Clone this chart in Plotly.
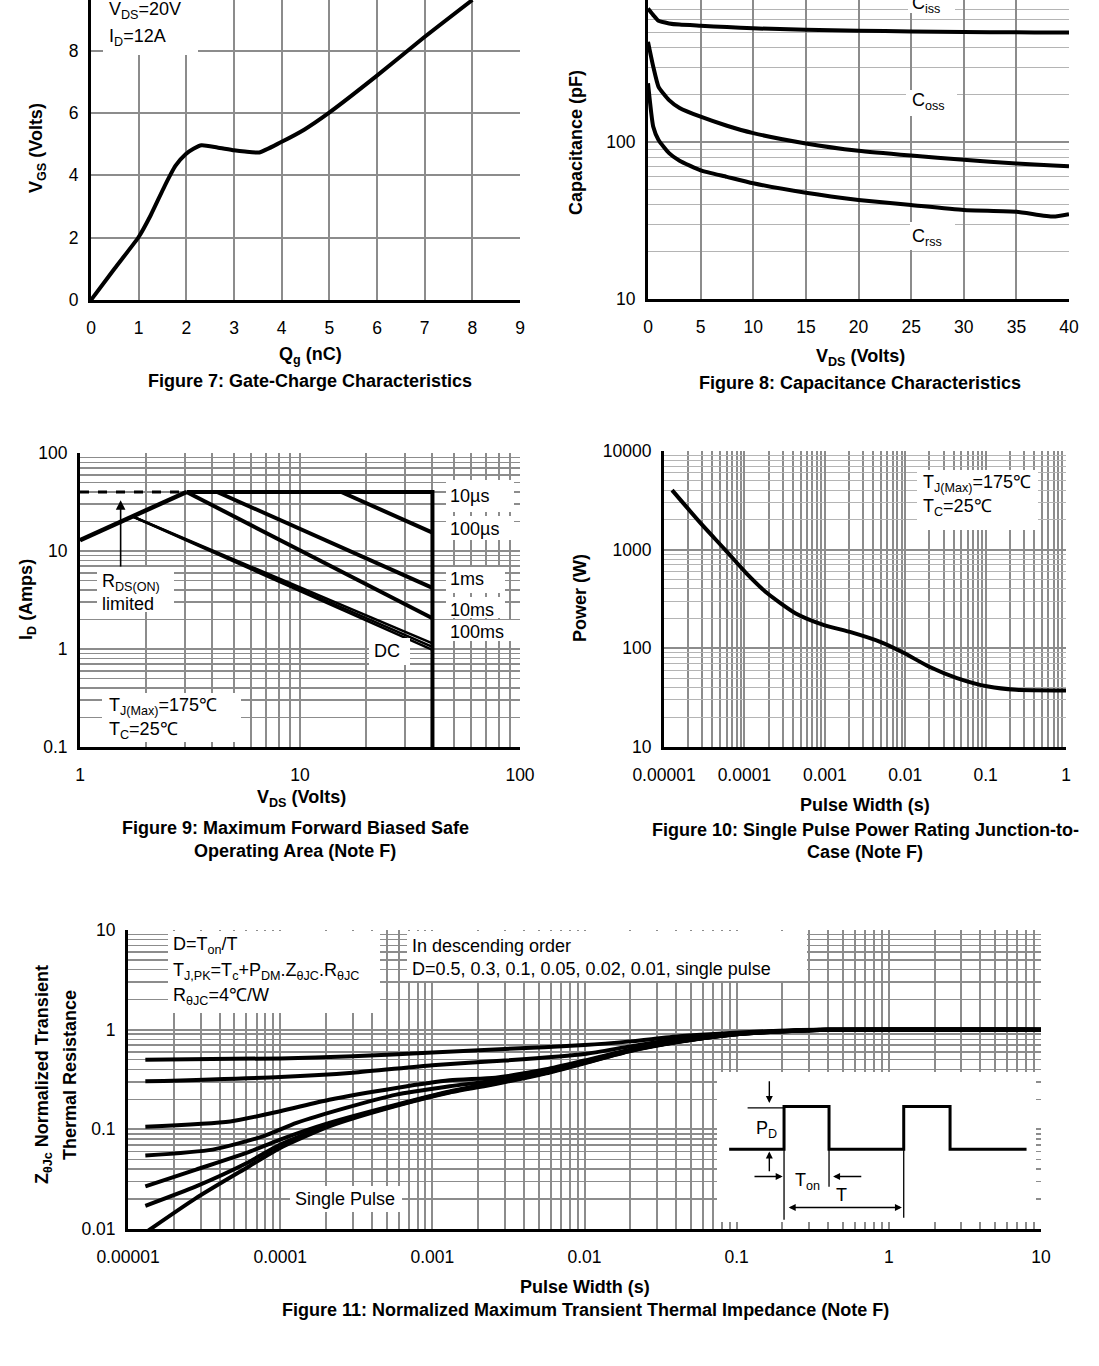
import math
import plotly.graph_objects as go

W, H = 1099, 1366
FONT = "Liberation Sans, Arial, Helvetica, sans-serif"
GRID = "#8c8c8c"
GRID_LIGHT = "#b4b4b4"
TXT = 18
TICK = 17.5


def px(x):
    return x / W


def py(y):
    return 1 - y / H


# ---------------- Figure 7: gate charge ----------------
qg_nc = [0, 0.5, 1.0, 1.25, 1.55, 1.77, 1.99, 2.15, 2.32, 2.65, 3.0, 3.23, 3.53, 3.97, 4.48, 4.99, 5.98, 6.97, 8.0]
vgs_volts = [0, 1.02, 2.02, 2.71, 3.67, 4.30, 4.68, 4.85, 4.96, 4.89, 4.80, 4.76, 4.73, 5.05, 5.47, 6.0, 7.17, 8.4, 9.62]
qg_ticks = [0, 1, 2, 3, 4, 5, 6, 7, 8, 9]
vgs_ticks = [0, 2, 4, 6, 8]

# ---------------- Figure 8: capacitance ----------------
vds_cap = [0, 0.5, 1, 2, 3, 5, 7.5, 10, 15, 20, 25, 30, 35, 38.5, 40]
ciss_pf = [710, 644, 592, 570, 560, 551, 540, 530, 520, 512, 507, 502, 500, 498, 498]
coss_pf = [435, 302, 225, 185, 165, 145, 127, 114, 98, 88, 82, 77, 73, 71, 70]
crss_pf = [237, 125, 103, 85, 76, 66, 60, 54.6, 47.5, 42.8, 39.7, 36.9, 36.0, 33.5, 34.7]
vds_cap_ticks = [0, 5, 10, 15, 20, 25, 30, 35, 40]
cap_ticks = [10, 100]

# ---------------- Figure 9: SOA ----------------
rds_vds = [1.0, 3.05]
rds_id = [12.9, 40.0]
dash_vds = [1.0, 3.05]
dash_id = [40.0, 40.0]
limit_vds = [3.05, 40.0, 40.0]
limit_id = [40.0, 40.0, 0.1]
soa10us_vds = [15.4, 40.0]
soa10us_id = [40.0, 15.4]
soa100us_vds = [4.2, 40.0]
soa100us_id = [40.0, 4.2]
soa1ms_vds = [3.05, 40.0]
soa1ms_id = [40.0, 2.06]
soa10ms_vds = [1.74, 40.0]
soa10ms_id = [22.4, 1.14]
soa100ms_vds = [1.74, 40.0]
soa100ms_id = [22.4, 1.05]
soadc_vds = [1.74, 40.0]
soadc_id = [22.4, 0.98]
soa_x_ticks = [1, 10, 100]
soa_y_ticks = [0.1, 1, 10, 100]

# ---------------- Figure 10: single pulse power ----------------
pulse_s = [1.26e-5, 2.87e-5, 5.8e-5, 1.06e-4, 1.93e-4, 4.3e-4, 9.6e-4, 2.15e-3, 4.8e-3, 9.7e-3, 1.96e-2, 4.4e-2, 0.108, 0.24, 1.0]
power_w = [4010, 1845, 991, 576, 361, 227, 173, 145, 117, 89.6, 65.5, 50, 41, 38, 37.4]
pw_x_ticks = [1e-5, 1e-4, 1e-3, 1e-2, 1e-1, 1]
pw_x_text = ["0.00001", "0.0001", "0.001", "0.01", "0.1", "1"]
pw_y_ticks = [10, 100, 1000, 10000]

# ---------------- Figure 11: transient thermal impedance ----------------
z05_t = [1.3e-5, 1e-4, 3e-4, 1e-3, 3e-3, 0.01, 0.02, 0.042, 0.09, 0.19, 0.35, 10]
z05 = [0.50, 0.515, 0.54, 0.59, 0.64, 0.70, 0.763, 0.857, 0.926, 0.977, 1.0, 1.0]
z03_t = [1.3e-5, 1e-4, 3e-4, 1e-3, 3e-3, 0.01, 0.02, 0.042, 0.09, 0.19, 0.35, 10]
z03 = [0.303, 0.335, 0.37, 0.44, 0.49, 0.57, 0.68, 0.806, 0.905, 0.962, 1.0, 1.0]
z01_t = [1.3e-5, 4.7e-5, 1e-4, 2.1e-4, 5.8e-4, 1.3e-3, 2.6e-3, 5.6e-3, 0.01, 0.02, 0.042, 0.09, 0.19, 0.4, 10]
z01 = [0.106, 0.12, 0.152, 0.198, 0.26, 0.31, 0.33, 0.40, 0.49, 0.63, 0.77, 0.895, 0.965, 1.0, 1.0]
z005_t = [1.3e-5, 3.6e-5, 7.7e-5, 1.28e-4, 2.7e-4, 5.8e-4, 1.3e-3, 2.6e-3, 5.6e-3, 0.01, 0.02, 0.042, 0.09, 0.19, 0.4, 10]
z005 = [0.0545, 0.0626, 0.085, 0.116, 0.164, 0.223, 0.27, 0.31, 0.385, 0.48, 0.625, 0.765, 0.89, 0.962, 1.0, 1.0]
z002_t = [1.3e-5, 2.8e-5, 6e-5, 1e-4, 2.1e-4, 5.8e-4, 1.3e-3, 2.6e-3, 5.6e-3, 0.01, 0.02, 0.042, 0.09, 0.19, 0.4, 10]
z002 = [0.0268, 0.0394, 0.058, 0.079, 0.116, 0.177, 0.24, 0.295, 0.375, 0.47, 0.62, 0.76, 0.89, 0.96, 1.0, 1.0]
z001_t = [1.3e-5, 2.8e-5, 6e-5, 1e-4, 2.1e-4, 5.8e-4, 1.3e-3, 2.6e-3, 5.6e-3, 0.01, 0.02, 0.042, 0.09, 0.19, 0.4, 10]
z001 = [0.0171, 0.0268, 0.0457, 0.0704, 0.111, 0.174, 0.237, 0.29, 0.37, 0.465, 0.615, 0.76, 0.885, 0.96, 1.0, 1.0]
zsp_t = [1.3e-5, 2.8e-5, 6e-5, 1e-4, 2.1e-4, 5.8e-4, 1.3e-3, 2.6e-3, 5.6e-3, 0.01, 0.02, 0.042, 0.09, 0.19, 0.4, 10]
zsp = [0.0092, 0.0204, 0.041, 0.065, 0.107, 0.172, 0.234, 0.285, 0.365, 0.46, 0.61, 0.755, 0.885, 0.96, 1.0, 1.0]
z_x_ticks = [1e-5, 1e-4, 1e-3, 1e-2, 1e-1, 1, 10]
z_x_text = ["0.00001", "0.0001", "0.001", "0.01", "0.1", "1", "10"]
z_y_ticks = [0.01, 0.1, 1, 10]
z_y_text = ["0.01", "0.1", "1", "10"]

# ---------------- Inset waveform (schematic units: Ton = 1) ----------------
wave_t = [0, 1.22, 1.22, 2.22, 2.22, 3.88, 3.88, 4.91, 4.91, 6.61]
wave_level = [0, 0, 1, 1, 0, 0, 1, 1, 0, 0]
inset_box_t = [-0.27, 6.82, 6.82, -0.27, -0.27]
inset_box_level = [-1.71, -1.71, 1.81, 1.81, -1.71]


def minor_vals(e0, e1):
    return [m * 10 ** e for e in range(e0, e1) for m in range(2, 10)]


fig = go.Figure()

# Figure 7
fig.add_trace(go.Scatter(x=qg_nc, y=vgs_volts, mode="lines",
                         line=dict(color="black", width=4, shape="spline", smoothing=0.5), xaxis="x", yaxis="y"))

# Figure 8
for ser in (ciss_pf, coss_pf, crss_pf):
    fig.add_trace(go.Scatter(x=vds_cap, y=ser, mode="lines",
                             line=dict(color="black", width=4, shape="spline", smoothing=0.5), xaxis="x2", yaxis="y2"))

# Figure 9
fig.add_trace(go.Scatter(x=dash_vds, y=dash_id, mode="lines", line=dict(color="black", width=3, dash="dash"), xaxis="x3", yaxis="y3"))
fig.add_trace(go.Scatter(x=rds_vds, y=rds_id, mode="lines", line=dict(color="black", width=4.5), xaxis="x3", yaxis="y3"))
fig.add_trace(go.Scatter(x=limit_vds, y=limit_id, mode="lines", line=dict(color="black", width=4), xaxis="x3", yaxis="y3"))
for xs, ys, wd in ((soa10us_vds, soa10us_id, 4), (soa100us_vds, soa100us_id, 4), (soa1ms_vds, soa1ms_id, 4),
                   (soa10ms_vds, soa10ms_id, 2.5), (soa100ms_vds, soa100ms_id, 2.5), (soadc_vds, soadc_id, 2.5)):
    fig.add_trace(go.Scatter(x=xs, y=ys, mode="lines", line=dict(color="black", width=wd), xaxis="x3", yaxis="y3"))

# Figure 10
fig.add_trace(go.Scatter(x=pulse_s, y=power_w, mode="lines",
                         line=dict(color="black", width=4, shape="spline", smoothing=0.6), xaxis="x4", yaxis="y4"))

# Figure 11
for xs, ys in ((z05_t, z05), (z03_t, z03), (z01_t, z01), (z005_t, z005), (z002_t, z002), (z001_t, z001), (zsp_t, zsp)):
    fig.add_trace(go.Scatter(x=xs, y=ys, mode="lines",
                             line=dict(color="black", width=4, shape="spline", smoothing=0.6), xaxis="x5", yaxis="y5"))

# Inset
fig.add_trace(go.Scatter(x=inset_box_t, y=inset_box_level, mode="lines", fill="toself", fillcolor="white",
                         line=dict(width=0, color="white"), xaxis="x6", yaxis="y6"))
fig.add_trace(go.Scatter(x=wave_t, y=wave_level, mode="lines", line=dict(color="black", width=3), xaxis="x6", yaxis="y6"))
thin_x = [[wave_t[1], wave_t[1]], [wave_t[3], wave_t[3]], [wave_t[5], wave_t[5]], [0.41, wave_t[1]]]
thin_y = [[0, -1.66], [0, -0.88], [0, -1.61], [0.97, 0.97]]
for xs, ys in zip(thin_x, thin_y):
    fig.add_trace(go.Scatter(x=xs, y=ys, mode="lines", line=dict(color="black", width=1.3), xaxis="x6", yaxis="y6"))

tickfont = dict(family=FONT, size=TICK, color="black")


def lin_axis(dom, rng, tickvals, standoff):
    return dict(domain=dom, range=rng, tickmode="array", tickvals=tickvals, ticktext=[str(v) for v in tickvals],
                showgrid=True, gridcolor=GRID, gridwidth=2, showline=True, linecolor="black", linewidth=3,
                ticks="", tickfont=tickfont, zeroline=False, ticklabelstandoff=standoff, fixedrange=True)


def log_axis(dom, rng, tickvals, ticktext, e0, e1, standoff, minor_color=GRID, minor_width=2):
    return dict(domain=dom, type="log", range=rng, tickmode="array", tickvals=tickvals, ticktext=ticktext,
                showgrid=True, gridcolor=GRID, gridwidth=2, showline=True, linecolor="black", linewidth=3,
                ticks="", tickfont=tickfont, zeroline=False, ticklabelstandoff=standoff,
                minor=dict(tickmode="array", tickvals=minor_vals(e0, e1), showgrid=True, gridcolor=minor_color,
                           gridwidth=minor_width, ticks=""), fixedrange=True)


XS, YS = 10, 6
layout_axes = dict(
    xaxis=lin_axis([px(91), px(520)], [0, 9], qg_ticks, XS),
    yaxis=lin_axis([py(300), 1], [0, 9.62], vgs_ticks, YS),
    xaxis2=lin_axis([px(648), px(1069)], [0, 40], vds_cap_ticks, XS),
    yaxis2=log_axis([py(299), 1], [1, 2.905], cap_ticks, ["10", "100"], 1, 3, YS, minor_color=GRID_LIGHT, minor_width=1),
    xaxis3=log_axis([px(80), px(520)], [0, 2], soa_x_ticks, ["1", "10", "100"], 0, 2, XS),
    yaxis3=log_axis([py(747), py(453)], [-1, 2], soa_y_ticks, ["0.1", "1", "10", "100"], -1, 2, YS, minor_width=1.6),
    xaxis4=log_axis([px(664), px(1066)], [-5, 0], pw_x_ticks, pw_x_text, -5, 0, XS),
    yaxis4=log_axis([py(747), py(451)], [1, 4], pw_y_ticks, [str(v) for v in pw_y_ticks], 1, 4, YS,
                    minor_color=GRID_LIGHT, minor_width=1),
    xaxis5=log_axis([px(128), px(1041)], [-5, 1], z_x_ticks, z_x_text, -5, 1, XS),
    yaxis5=log_axis([py(1229), py(930)], [-2, 1], z_y_ticks, z_y_text, -2, 1, YS, minor_width=1.6),
    xaxis6=dict(domain=[px(717), px(1036)], range=[-0.27, 6.82], visible=False, fixedrange=True),
    yaxis6=dict(domain=[py(1222), py(1072)], range=[-1.71, 1.81], visible=False, fixedrange=True),
)
for k in ("yaxis", "yaxis2", "yaxis3", "yaxis4", "yaxis5"):
    layout_axes[k]["anchor"] = "x" + k[5:]
for k in ("xaxis", "xaxis2", "xaxis3", "xaxis4", "xaxis5"):
    layout_axes[k]["anchor"] = "y" + k[5:]
layout_axes["xaxis6"]["anchor"] = "y6"
layout_axes["yaxis6"]["anchor"] = "x6"

# White label boxes (pixel rectangles)
boxes = [
    (103, 0, 198, 55),
    (908, 0, 955, 13), (906, 90, 957, 116), (910, 222, 955, 250),
    (446, 480, 514, 512), (446, 516, 514, 540), (446, 567, 505, 593), (446, 597, 505, 618), (446, 620, 514, 641),
    (369, 638, 410, 665), (97, 567, 174, 612), (102, 693, 241, 742),
    (917, 470, 1038, 530),
    (168, 931, 380, 1013), (407, 931, 807, 981), (290, 1186, 402, 1212),
]
shapes = [dict(type="rect", xref="paper", yref="paper", x0=px(a), x1=px(c), y0=py(d), y1=py(b),
               fillcolor="white", line=dict(width=0), layer="above") for a, b, c, d in boxes]

ann = []


def text(x, y, s, anchor="left", size=TXT, bold=False, angle=0):
    if bold:
        s = "<b>" + s + "</b>"
    ann.append(dict(x=px(x), y=py(y), xref="paper", yref="paper", text=s, showarrow=False, xanchor=anchor,
                    yanchor="middle", textangle=angle, font=dict(family=FONT, size=size, color="black")))


# Figure 7 texts
text(107, 11, "V<sub>DS</sub>=20V")
text(107, 37, "I<sub>D</sub>=12A")
text(310, 355, "Q<sub>g</sub> (nC)", anchor="center", bold=True)
text(37, 148, "V<sub>GS</sub> (Volts)", anchor="center", bold=True, angle=-90)
text(310, 381, "Figure 7: Gate-Charge Characteristics", anchor="center", bold=True)

# Figure 8 texts
text(926, 4, "C<sub>iss</sub>", anchor="center")
text(928, 101, "C<sub>oss</sub>", anchor="center")
text(927, 237, "C<sub>rss</sub>", anchor="center")
text(860, 357, "V<sub>DS</sub> (Volts)", anchor="center", bold=True)
text(576, 143, "Capacitance (pF)", anchor="center", bold=True, angle=-90)
text(860, 383, "Figure 8: Capacitance Characteristics", anchor="center", bold=True)

# Figure 9 texts
text(448, 496, "10µs")
text(448, 529, "100µs")
text(448, 579, "1ms")
text(448, 610, "10ms")
text(448, 632, "100ms")
text(387, 651, "DC", anchor="center")
text(100, 582, "R<sub>DS(ON)</sub>")
text(100, 604, "limited")
text(107, 706, "T<sub>J(Max)</sub>=175℃")
text(107, 730, "T<sub>C</sub>=25℃")
text(301, 798, "V<sub>DS</sub> (Volts)", anchor="center", bold=True)
text(27, 600, "I<sub>D</sub> (Amps)", anchor="center", bold=True, angle=-90)
text(295, 828, "Figure 9: Maximum Forward Biased Safe", anchor="center", bold=True)
text(295, 851, "Operating Area (Note F)", anchor="center", bold=True)

# Figure 10 texts
text(921, 483, "T<sub>J(Max)</sub>=175℃")
text(921, 508, "T<sub>C</sub>=25℃")
text(865, 805, "Pulse Width (s)", anchor="center", bold=True)
text(580, 598, "Power (W)", anchor="center", bold=True, angle=-90)
text(865, 830, "Figure 10: Single Pulse Power Rating Junction-to-", anchor="center", bold=True)
text(865, 852, "Case (Note F)", anchor="center", bold=True)

# Figure 11 texts
text(171, 945, "D=T<sub>on</sub>/T")
text(171, 971, "T<sub>J,PK</sub>=T<sub>c</sub>+P<sub>DM</sub>.Z<sub>θJC</sub>.R<sub>θJC</sub>")
text(171, 996, "R<sub>θJC</sub>=4℃/W")
text(410, 946, "In descending order")
text(410, 969, "D=0.5, 0.3, 0.1, 0.05, 0.02, 0.01, single pulse")
text(345, 1199, "Single Pulse", anchor="center")
text(585, 1287, "Pulse Width (s)", anchor="center", bold=True)
text(43, 1075, "Z<sub>θJc</sub> Normalized Transient", anchor="center", bold=True, angle=-90)
text(70, 1075, "Thermal Resistance", anchor="center", bold=True, angle=-90)
text(585, 1310, "Figure 11: Normalized Maximum Transient Thermal Impedance (Note F)", anchor="center", bold=True)

# Inset labels
for x, y, s in ((0.84, 0.455, "P<sub>D</sub>"), (1.74, -0.76, "T<sub>on</sub>"), (2.49, -1.07, "T")):
    ann.append(dict(x=x, y=y, xref="x6", yref="y6", text=s, showarrow=False, xanchor="center", yanchor="middle",
                    font=dict(family=FONT, size=TXT, color="black")))

# Arrows in the inset
arrows = [
    (0.893, 1.08, 0.893, 1.63, "end"),
    (0.893, -0.056, 0.893, -0.556, "end"),
    (1.19, -0.643, 0.53, -0.643, "end"),
    (2.31, -0.643, 2.97, -0.643, "end"),
    (3.84, -1.37, 1.29, -1.37, "end+start"),
]
for hx, hy, tx, ty, side in arrows:
    ann.append(dict(x=hx, y=hy, ax=tx, ay=ty, xref="x6", yref="y6", axref="x6", ayref="y6", text="", showarrow=True,
                    arrowhead=2, arrowsize=1, arrowwidth=1.4, arrowcolor="black", arrowside=side))

# R_DS(ON) arrow in Figure 9 (log axes -> log10 positions)
ann.append(dict(x=math.log10(1.53), y=math.log10(33), ax=math.log10(1.53), ay=math.log10(6.7), xref="x3", yref="y3",
                axref="x3", ayref="y3", text="", showarrow=True, arrowhead=2, arrowsize=1.2, arrowwidth=1.6,
                arrowcolor="black"))

fig.update_layout(
    width=W, height=H, margin=dict(l=0, r=0, t=0, b=0), autosize=False,
    paper_bgcolor="white", plot_bgcolor="white", showlegend=False, template="none",
    font=dict(family=FONT, size=TXT, color="black"),
    shapes=shapes, annotations=ann, **layout_axes,
)

fig.write_html("out.html", config={"displayModeBar": False, "staticPlot": True},
               post_script="document.body.style.margin='0';document.body.style.overflow='hidden';")
